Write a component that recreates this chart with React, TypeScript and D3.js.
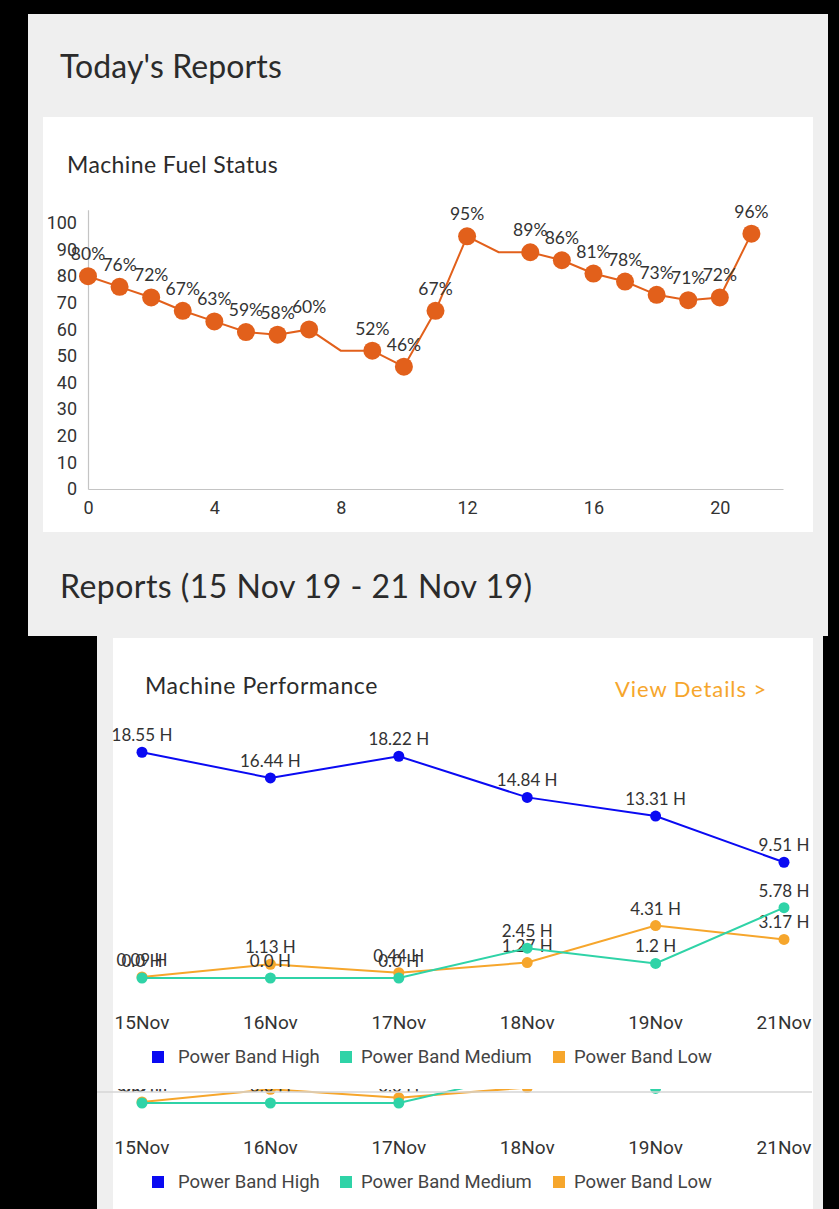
import React, { useRef, useEffect } from 'react';
import * as d3 from 'd3';

// Machine fuel status (today)
const fuelIndex = d3.range(0, 22);
const fuelValues = [80, 76, 72, 67, 63, 59, 58, 60, 52, 52, 46, 67, 95, 89, 89, 86, 81, 78, 73, 71, 72, 96];
const fuelNoMarker = [8, 13];
const fuelYTicks = [0, 10, 20, 30, 40, 50, 60, 70, 80, 90, 100];
const fuelXTicks = [0, 4, 8, 12, 16, 20];

// Machine performance (15 Nov - 21 Nov)
const perfDays = ['15Nov', '16Nov', '17Nov', '18Nov', '19Nov', '21Nov'];
const bandHigh = [18.55, 16.44, 18.22, 14.84, 13.31, 9.51];
const bandMedium = [0, 0, 0, 2.45, 1.2, 5.78];
const bandLow = [0.09, 1.13, 0.44, 1.27, 4.31, 3.17];
const bandNames = ['Power Band High', 'Power Band Medium', 'Power Band Low'];
const bandColors = ['#0a0af2', '#2fd3a7', '#f6a62c'];

const W = 839;
const H = 1209;
const TITLE_FONT = 'Lato, "Open Sans", sans-serif';
const TICK_FONT = 'Roboto, "Noto Sans", sans-serif';

function drawPerformance(g, clipId) {
  const x = d3.scalePoint().domain(perfDays).range([142, 784]);
  const y = d3.scaleLinear().domain([0, 20]).range([978, 978 - 20 * 12.17]);
  const series = [bandHigh, bandMedium, bandLow];

  const plot = g.append('g');
  if (clipId) plot.attr('clip-path', `url(#${clipId})`);

  // low first, then medium, then high on top
  [2, 1, 0].forEach(si => {
    const pts = series[si].map((v, i) => ({ day: perfDays[i], v }));
    const line = d3.line()
      .x(d => x(d.day))
      .y(d => y(d.v));
    plot.append('path')
      .datum(pts)
      .attr('d', line)
      .attr('fill', 'none')
      .attr('stroke', bandColors[si])
      .attr('stroke-width', 2);
    plot.selectAll(`.dot-${si}`)
      .data(pts)
      .enter()
      .append('circle')
      .attr('cx', d => x(d.day))
      .attr('cy', d => y(d.v))
      .attr('r', 5.5)
      .attr('fill', bandColors[si]);
    plot.selectAll(`.lbl-${si}`)
      .data(pts)
      .enter()
      .append('text')
      .attr('x', d => x(d.day))
      .attr('y', d => y(d.v) - 11)
      .attr('text-anchor', 'middle')
      .attr('font-family', TITLE_FONT)
      .attr('font-size', 17)
      .attr('fill', '#333')
      .text(d => `${d.v === 0 ? '0.0' : d.v} H`);
  });

  // x labels
  const xg = g.append('g');
  if (clipId) xg.attr('clip-path', `url(#${clipId})`);
  xg.selectAll('text')
    .data(perfDays)
    .enter()
    .append('text')
    .attr('x', d => x(d))
    .attr('y', 1029)
    .attr('text-anchor', 'middle')
    .attr('font-family', TICK_FONT)
    .attr('font-size', 19)
    .attr('fill', '#333')
    .text(d => d);

  // legend
  const legendX = [152, 340, 553];
  const legend = xg.append('g');
  bandNames.forEach((name, i) => {
    legend.append('rect')
      .attr('x', legendX[i])
      .attr('y', 1051)
      .attr('width', 12)
      .attr('height', 12)
      .attr('fill', bandColors[i]);
    legend.append('text')
      .attr('x', legendX[i] + (i === 0 ? 26 : 21))
      .attr('y', 1063)
      .attr('font-family', TICK_FONT)
      .attr('font-size', 18.5)
      .attr('fill', '#444')
      .text(name);
  });
}

function App() {
  const svgRef = useRef();

  useEffect(() => {
    document.body.style.margin = '0';
    const svg = d3.select(svgRef.current);
    svg.selectAll('*').remove();

    // Backgrounds
    svg.append('rect').attr('width', W).attr('height', H).attr('fill', '#000');
    svg.append('rect').attr('x', 28).attr('y', 14).attr('width', 800).attr('height', 622).attr('fill', '#efefef');
    svg.append('rect').attr('x', 43).attr('y', 117).attr('width', 770).attr('height', 415).attr('fill', '#fff');
    svg.append('rect').attr('x', 97).attr('y', 636).attr('width', 726).attr('height', H - 636).attr('fill', '#efefef');
    svg.append('rect').attr('x', 113).attr('y', 638).attr('width', 700).attr('height', H - 638).attr('fill', '#fff');

    // Headings
    svg.append('text')
      .attr('x', 60).attr('y', 78)
      .attr('font-family', TITLE_FONT).attr('font-size', 32).attr('letter-spacing', 0.1).attr('fill', '#2b2b2b')
      .text("Today's Reports");
    svg.append('text')
      .attr('x', 67).attr('y', 173)
      .attr('font-family', TITLE_FONT).attr('font-size', 23).attr('letter-spacing', 0.4).attr('fill', '#2b2b2b')
      .text('Machine Fuel Status');
    svg.append('text')
      .attr('x', 60).attr('y', 598)
      .attr('font-family', TITLE_FONT).attr('font-size', 32).attr('letter-spacing', 0.45).attr('fill', '#2b2b2b')
      .text('Reports (15 Nov 19 - 21 Nov 19)');
    svg.append('text')
      .attr('x', 145).attr('y', 694)
      .attr('font-family', TITLE_FONT).attr('font-size', 23).attr('letter-spacing', 0.6).attr('fill', '#2b2b2b')
      .text('Machine Performance');
    svg.append('text')
      .attr('x', 615).attr('y', 697)
      .attr('font-family', TITLE_FONT).attr('font-size', 22).attr('letter-spacing', 0.9).attr('fill', '#f6a62c')
      .text('View Details >');

    // Fuel chart
    const fx = d3.scaleLinear().domain([0, 22]).range([88, 783]);
    const fy = d3.scaleLinear().domain([0, 105]).range([489, 489 - 105 * 2.66]);
    const fuel = svg.append('g');

    const yAxis = fuel.append('g')
      .attr('transform', `translate(${fx(0)},0)`)
      .call(d3.axisLeft(fy).tickValues(fuelYTicks).tickSize(0).tickPadding(11));
    const xAxis = fuel.append('g')
      .attr('transform', `translate(0,${fy(0)})`)
      .call(d3.axisBottom(fx).tickValues(fuelXTicks).tickSize(0).tickPadding(12));
    [yAxis, xAxis].forEach(a => {
      a.select('.domain').attr('stroke', '#c4c4c4').attr('stroke-width', 1.2);
      a.selectAll('text')
        .attr('font-family', TICK_FONT)
        .attr('font-size', 18)
        .attr('fill', '#333');
    });

    const fuelPts = fuelIndex.map(i => ({ i, v: fuelValues[i] }));
    const fuelLine = d3.line()
      .x(d => fx(d.i))
      .y(d => fy(d.v));
    fuel.append('path')
      .datum(fuelPts)
      .attr('d', fuelLine)
      .attr('fill', 'none')
      .attr('stroke', '#e2601b')
      .attr('stroke-width', 2);

    const marked = fuelPts.filter(d => !fuelNoMarker.includes(d.i));
    fuel.selectAll('.fuel-dot')
      .data(marked)
      .enter()
      .append('circle')
      .attr('cx', d => fx(d.i))
      .attr('cy', d => fy(d.v))
      .attr('r', 9)
      .attr('fill', '#e2601b');
    fuel.selectAll('.fuel-lbl')
      .data(marked)
      .enter()
      .append('text')
      .attr('x', d => fx(d.i))
      .attr('y', d => fy(d.v) - 16)
      .attr('text-anchor', 'middle')
      .attr('font-family', TITLE_FONT)
      .attr('font-size', 17.5)
      .attr('fill', '#333')
      .text(d => `${d.v}%`);

    // Performance chart, plus the duplicated strip below it
    const defs = svg.append('defs');
    defs.append('clipPath').attr('id', 'perf-top')
      .append('rect').attr('x', 0).attr('y', 700).attr('width', W).attr('height', 392);
    defs.append('clipPath').attr('id', 'perf-bottom')
      .append('rect').attr('x', 0).attr('y', 1089 - 125).attr('width', W).attr('height', 300);

    drawPerformance(svg.append('g').attr('clip-path', 'url(#perf-top)'), null);
    drawPerformance(svg.append('g').attr('transform', 'translate(0,125)'), 'perf-bottom');

    svg.append('line')
      .attr('x1', 83).attr('x2', 812)
      .attr('y1', 1092).attr('y2', 1092)
      .attr('stroke', '#d6d6d6')
      .attr('stroke-width', 1.5);

    // black margins
    svg.append('rect').attr('x', 0).attr('y', 636).attr('width', 97).attr('height', H - 636).attr('fill', '#000');
    svg.append('rect').attr('x', 823).attr('y', 636).attr('width', 16).attr('height', H - 636).attr('fill', '#000');
    svg.append('rect').attr('x', 828).attr('y', 0).attr('width', 11).attr('height', 636).attr('fill', '#000');
  }, []);

  return <svg ref={svgRef} width={W} height={H} style={{ display: 'block' }}></svg>;
}

export default App;
